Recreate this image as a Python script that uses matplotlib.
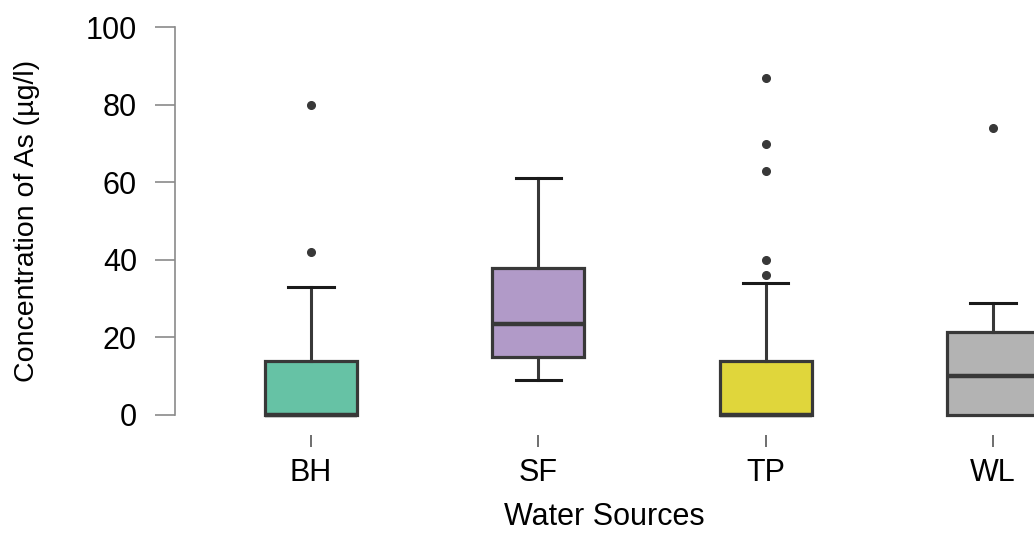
import numpy as np
import matplotlib
matplotlib.use("Agg")
import matplotlib.pyplot as plt

# values (ug/l)
sources = ["BH", "SF", "TP", "WL"]
q1 = [0, 15, 0, 0]
med = [0, 23.5, 0, 10]
q3 = [14, 38, 14, 21.5]
whislo = [0, 9, 0, 0]
whishi = [33, 61, 34, 29]
fliers = [[42, 80], [], [36, 40, 63, 70, 87], [74]]
colors = ["#66c2a5", "#b19ac8", "#e0d63b", "#b3b3b3"]

plt.rcParams["font.family"] = ["Liberation Sans", "DejaVu Sans"]

fig = plt.figure(figsize=(10.34, 5.34), dpi=100)
ax = fig.add_axes([0.1692, 0.212, 1 - 0.1692, 0.748])

stats = []
for i in range(len(sources)):
    stats.append({"label": sources[i], "q1": q1[i], "med": med[i], "q3": q3[i],
                  "whislo": whislo[i], "whishi": whishi[i], "fliers": fliers[i]})

edge = "#383838"
bp = ax.bxp(stats, positions=np.arange(len(sources)), widths=0.405,
            patch_artist=True, showcaps=True,
            boxprops=dict(edgecolor=edge, linewidth=2.3),
            medianprops=dict(color=edge, linewidth=3.2),
            whiskerprops=dict(color=edge, linewidth=2.2),
            capprops=dict(color="#1a1a1a", linewidth=2.2),
            capwidths=0.2,
            flierprops=dict(marker="o", markerfacecolor=edge, markeredgecolor=edge,
                            markersize=5.5))
for patch, c in zip(bp["boxes"], colors):
    patch.set_facecolor(c)
for k in ["boxes", "medians", "whiskers", "caps", "fliers"]:
    for a in bp[k]:
        a.set_clip_on(False)
# no separate lower cap when the whisker has no length
for i in range(len(sources)):
    if whislo[i] == q1[i]:
        bp["caps"][2 * i].set_visible(False)

ax.set_xlim(-0.598, 3.18)
ax.set_ylim(-1.5, 101.5)
ax.set_yticks([0, 20, 40, 60, 80, 100])

for s in ["top", "right"]:
    ax.spines[s].set_visible(False)
ax.spines["left"].set_bounds(0, 100)
ax.spines["left"].set_color("#8a8a8a")
ax.spines["left"].set_linewidth(1.2)
ax.spines["bottom"].set_position(("outward", 10))
ax.spines["bottom"].set_visible(False)

ax.tick_params(axis="y", length=14.4, width=1.2, color="#8a8a8a", pad=13,
               labelsize=22)
ax.tick_params(axis="x", length=8.6, width=1.2, color="#555555", pad=8,
               labelsize=22)

ax.set_xlabel("Water Sources", fontsize=22, labelpad=10)
ax.set_ylabel("Concentration of As (µg/l)", fontsize=20.5, labelpad=33)

fig.savefig("out.png", dpi=100)
